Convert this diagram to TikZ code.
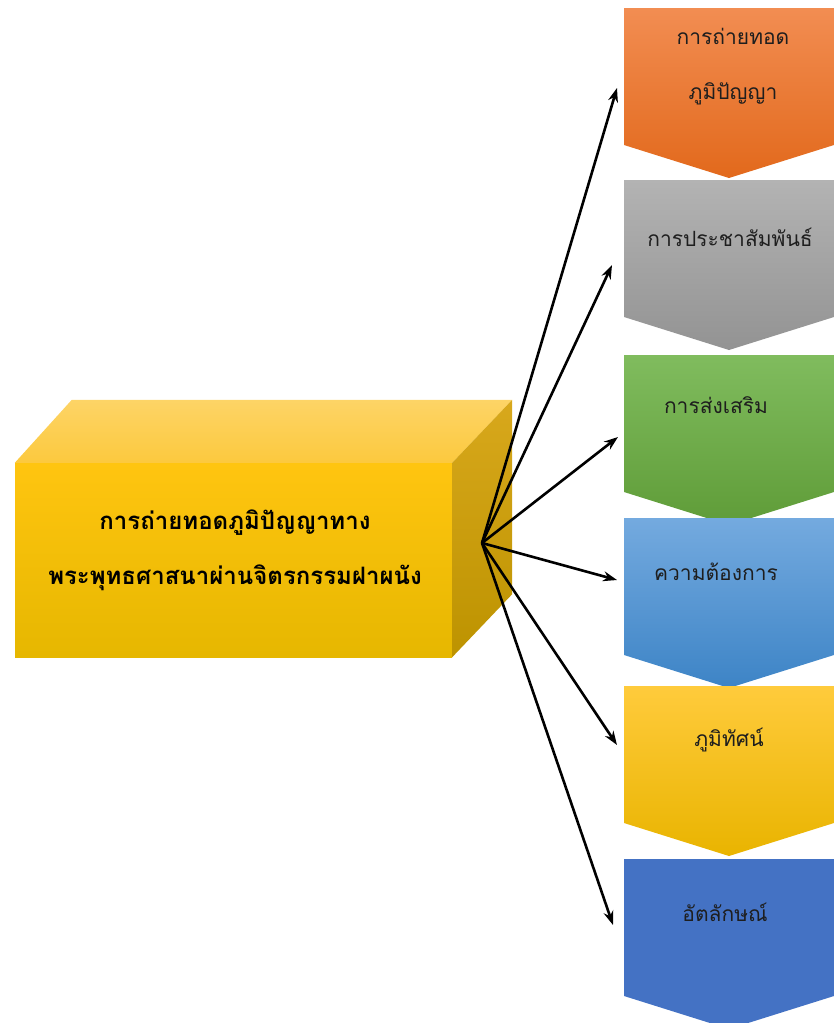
\documentclass[tikz,border=0pt]{standalone}
\usepackage{fontspec}
\newfontfamily\thaifont[Script=Thai]{Loma}
\usetikzlibrary{arrows.meta,backgrounds}

\definecolor{orangetop}{HTML}{F28D52}
\definecolor{orangebot}{HTML}{E2691C}
\definecolor{graytop}{HTML}{B3B3B3}
\definecolor{graybot}{HTML}{939393}
\definecolor{greentop}{HTML}{80BC5E}
\definecolor{greenbot}{HTML}{5F9C38}
\definecolor{skytop}{HTML}{74AADF}
\definecolor{skybot}{HTML}{3D84C6}
\definecolor{goldtop}{HTML}{FFCB3C}
\definecolor{goldbot}{HTML}{E9B400}
\definecolor{navy}{HTML}{4472C4}
\definecolor{boxtop}{HTML}{FFC510}
\definecolor{boxbot}{HTML}{E6B700}
\definecolor{lidtop}{HTML}{FDD466}
\definecolor{lidbot}{HTML}{FCC93E}
\definecolor{sidetop}{HTML}{D8A81C}
\definecolor{sidebot}{HTML}{BD9300}
\definecolor{inktext}{HTML}{1E1E1E}

% one chevron: #1 top edge, #2 top colour, #3 bottom colour
\newcommand{\chevshape}[3]{%
  \shade[top color=#2, bottom color=#3]
    (624,#1) -- (834,#1) -- (834,#1+137) -- (729,#1+170) -- (624,#1+137) -- cycle;}

\tikzset{
  chevtext/.style={inner sep=0pt, align=center, text=inktext,
    font=\thaifont\fontsize{21}{55}\selectfont},
  front/.style={minimum width=437, minimum height=194, inner sep=0pt,
    top color=boxtop, bottom color=boxbot},
  title/.style={inner sep=0pt, align=center,
    font=\thaifont\bfseries\fontsize{24}{55}\selectfont},
  link/.style={-{Stealth[length=14pt,width=10pt]}, line width=2.6pt},
}

\begin{document}
\begin{tikzpicture}[x=1pt, y=-1pt]
    \useasboundingbox (0,0) rectangle (834,1023);

    % chevrons on the right
    \chevshape{8}{orangetop}{orangebot}
    \chevshape{180}{graytop}{graybot}
    \chevshape{355}{greentop}{greenbot}
    \chevshape{518}{skytop}{skybot}
    \chevshape{686}{goldtop}{goldbot}
    \chevshape{859}{navy}{navy}

    \node[chevtext] (c1) at (733,67) {การถ่ายทอด\\ภูมิปัญญา};
    \node[chevtext] (c2) at (730,237) {การประชาสัมพันธ์};
    \node[chevtext] (c3) at (716,405) {การส่งเสริม};
    \node[chevtext] (c4) at (716,572) {ความต้องการ};
    \node[chevtext] (c5) at (729,740) {ภูมิทัศน์};
    \node[chevtext] (c6) at (725,912) {อัตลักษณ์};

    % the block
    \node[front] (box) at (233.5,560) {};
    \shade[top color=lidtop, bottom color=lidbot]
      (box.north west) -- ([shift={(57,-63)}]box.north west)
      -- ([shift={(60,-63)}]box.north east) -- (box.north east) -- cycle;
    \shade[top color=sidetop, bottom color=sidebot]
      (box.north east) -- ([shift={(60,-63)}]box.north east)
      -- ([shift={(60,-63)}]box.south east) -- (box.south east) -- cycle;
    \node[title] (name) at (235,550)
      {การถ่ายทอดภูมิปัญญาทาง\\พระพุทธศาสนาผ่านจิตรกรรมฝาผนัง};

    % arrows
    \coordinate (hub) at (482,543);
    \coordinate (e1) at (617,88);
    \coordinate (e2) at (612,265);
    \coordinate (e3) at (618,437);
    \coordinate (e4) at (617,580);
    \coordinate (e5) at (617,745);
    \coordinate (e6) at (613,925);
    \draw[link] (hub) -- (e1);
    \draw[link] (hub) -- (e2);
    \draw[link] (hub) -- (e3);
    \draw[link] (hub) -- (e4);
    \draw[link] (hub) -- (e5);
    \draw[link] (hub) -- (e6);
  \end{tikzpicture}
\end{document}
